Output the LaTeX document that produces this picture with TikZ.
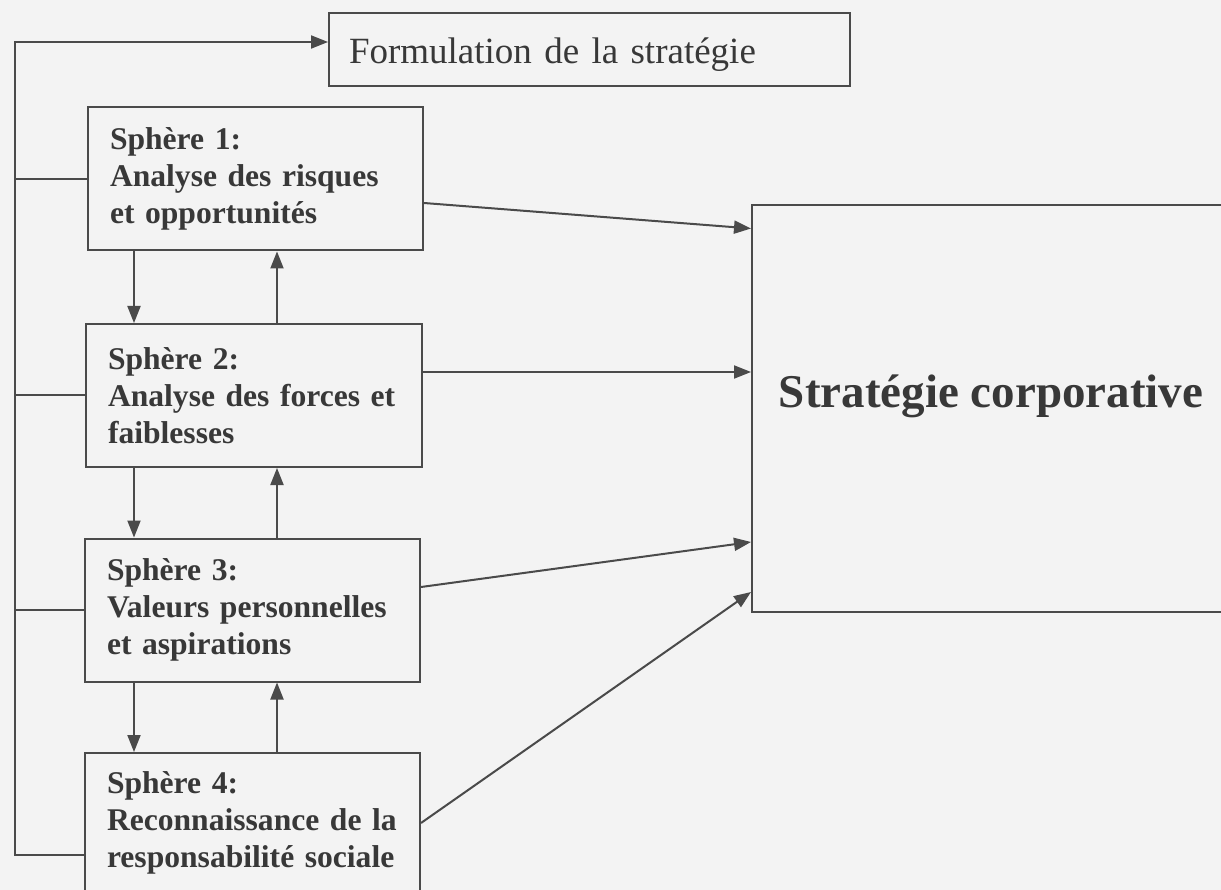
\documentclass[tikz,border=0pt]{standalone}
\usepackage{fontspec}
\setmainfont{Liberation Serif}
\usetikzlibrary{arrows.meta,calc}
\definecolor{lc}{HTML}{4A4A4A}
\definecolor{tx}{HTML}{383838}
\definecolor{bg}{HTML}{F3F3F3}
\begin{document}
\begin{tikzpicture}[x=1pt,y=-1pt,
  box/.style={draw=lc, line width=2pt, rectangle, inner sep=0pt},
  sph/.style={box, text=tx, font=\fontsize{31.6}{37}\selectfont\bfseries, text width=291pt, align=left, inner xsep=22pt, minimum width=335pt, minimum height=143pt},
  wire/.style={draw=lc, line width=2pt},
  arr/.style={wire, -{Triangle[length=17pt,width=13pt]}}]
\fill[bg] (0,0) rectangle (1221,890);
\useasboundingbox (0,0) rectangle (1221,890);
\clip (0,0) rectangle (1221,890);

\node[box, anchor=north west, minimum width=521pt, minimum height=73pt, text width=481pt, inner xsep=20pt, align=left, font=\fontsize{37}{44}\selectfont, text=tx, text height=33pt, text depth=4pt] (form) at (328,12) {Formulation de la stratégie};

\node[sph] (s1) at (255.5,179) {Sphère 1:\\Analyse des risques\\et opportunités};
\node[sph, minimum width=336pt, text width=292pt] (s2) at (254,395.5) {Sphère 2:\\Analyse des forces et\\faiblesses};
\node[sph] (s3) at (252.5,610) {Sphère 3:\\Valeurs personnelles\\et aspirations};
\node[sph, minimum height=140pt] (s4) at (252.5,823) {Sphère 4:\\Reconnaissance de la\\responsabilité sociale};

\node[box, minimum width=480pt, minimum height=407pt] (strat) at (992,408.5) {};
\node[text=tx, font=\fontsize{47}{56}\selectfont\bfseries, anchor=base, inner sep=0pt] (stratlabel) at (991,408) {Stratégie corporative};

\coordinate (bb) at (15,855);
\coordinate (bt) at (15,42);
\coordinate (dn) at (134,0);
\coordinate (up) at (277,0);

\draw[arr] (s4.west |- bb) -- (bb) -- (bt) -- (bt -| form.west);
\draw[wire] (s1.west) -- (s1.west -| bb);
\draw[wire] (s2.west) -- (s2.west -| bb);
\draw[wire] (s3.west) -- (s3.west -| bb);

\draw[arr] (s1.south -| dn) -- (s2.north -| dn);
\draw[arr] (s2.north -| up) -- (s1.south -| up);
\draw[arr] (s2.south -| dn) -- (s3.north -| dn);
\draw[arr] (s3.north -| up) -- (s2.south -| up);
\draw[arr] (s3.south -| dn) -- (s4.north -| dn);
\draw[arr] (s4.north -| up) -- (s3.south -| up);

\draw[arr] ($(s1.east)+(0,24)$) -- ($(strat.west)+(0,-180)$);
\draw[arr] ($(s2.east)+(0,-23.5)$) -- ($(strat.west)+(0,-36.5)$);
\draw[arr] ($(s3.east)+(0,-23)$) -- ($(strat.west)+(0,133.5)$);
\draw[arr] (s4.east) -- ($(strat.west)+(0,183.5)$);
\end{tikzpicture}
\end{document}
